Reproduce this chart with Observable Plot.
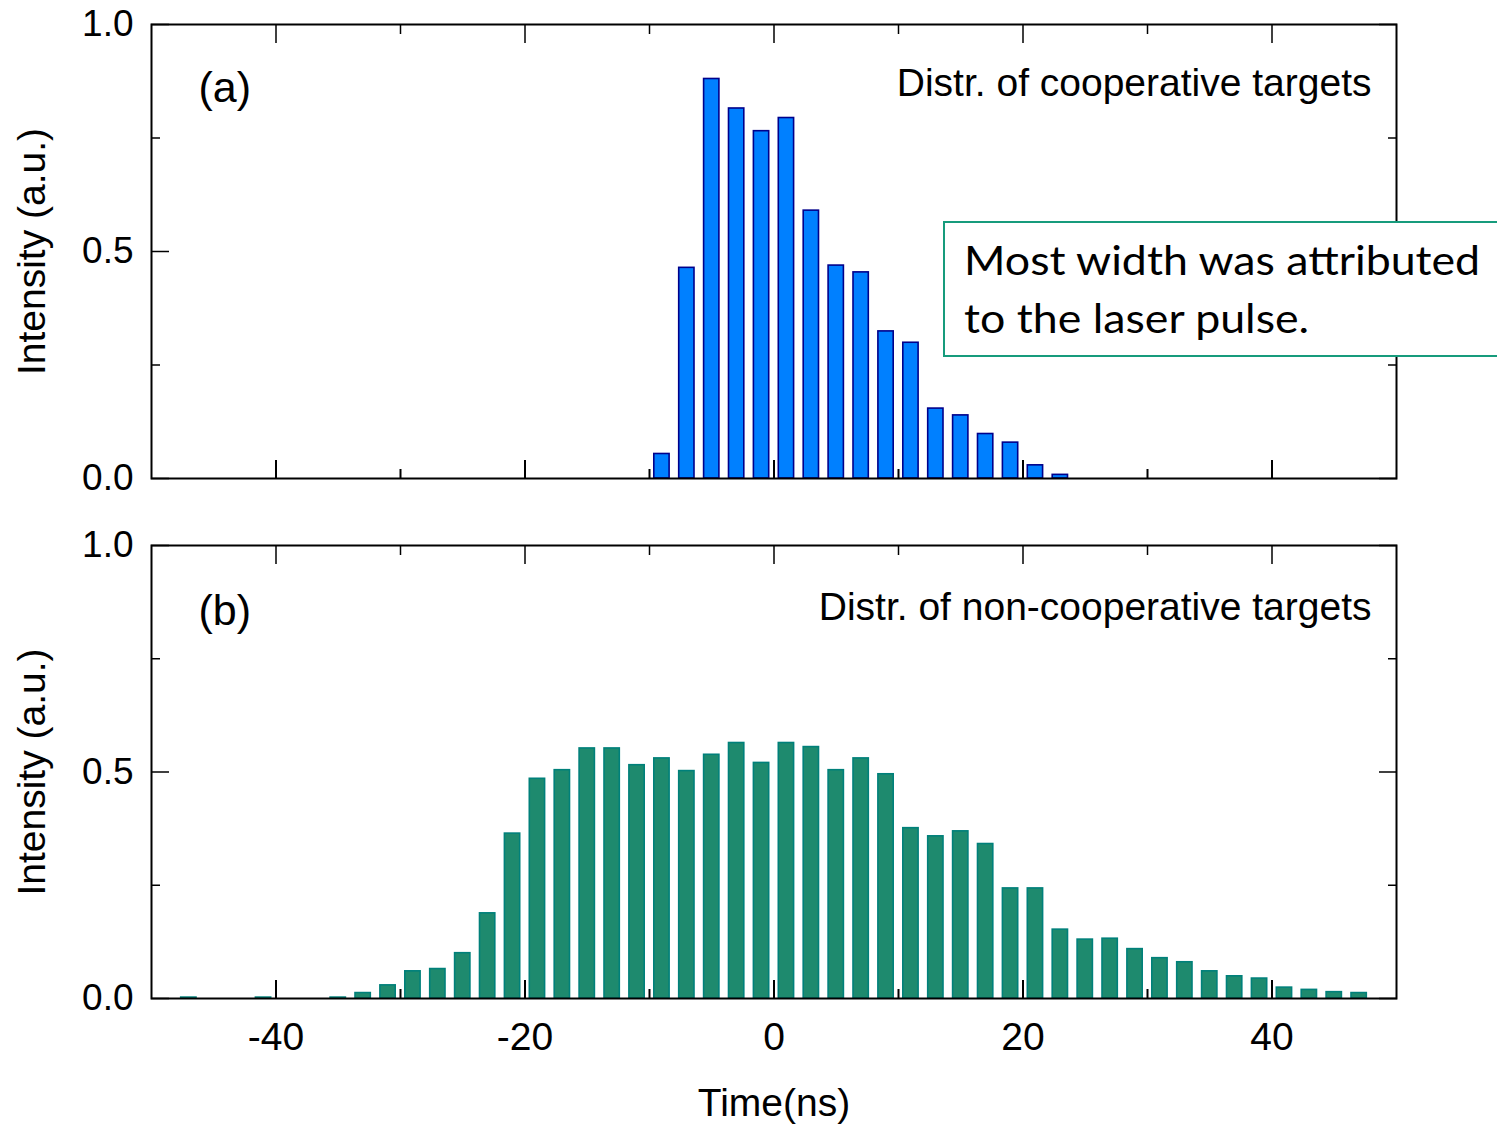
<!DOCTYPE html>
<html>
<head>
<meta charset="utf-8">
<script src="https://cdn.jsdelivr.net/npm/d3@7"></script>
<script src="https://cdn.jsdelivr.net/npm/@observablehq/plot@0.6"></script>
<style>
  html, body { margin: 0; padding: 0; background: #fff; }
  body { width: 1497px; height: 1125px; overflow: hidden; position: relative; }
  #top, #bottom { position: absolute; left: 0; }
  #top { top: 0; }
  #bottom { top: 500px; }
  #note {
    position: absolute; left: 943px; top: 221px; width: 620px; height: 136px;
    border: 2px solid #169b7c; background: #fff; box-sizing: border-box;
    font-family: Lato, "Open Sans", sans-serif; font-size: 41px; line-height: 58px;
    color: #000; padding: 8px 0 0 19px;
  }
  #note span { display: inline-block; transform: scaleX(1.09); transform-origin: left center; white-space: nowrap; }
</style>
</head>
<body>
<div id="top"></div>
<div id="bottom"></div>
<div id="note"><span>Most width was attributed</span><br><span>to the laser pulse.</span></div>
<script>
// ---- data ----
const coopTime = [-9, -7, -5, -3, -1, 1, 3, 5, 7, 9, 11, 13, 15, 17, 19, 21, 23];
const coopValue = [0.054, 0.464, 0.880, 0.815, 0.765, 0.794, 0.590, 0.469, 0.454,
                   0.324, 0.299, 0.154, 0.139, 0.098, 0.079, 0.029, 0.008];

const nonCoopTime = [-47, -45, -43, -41, -39, -37, -35, -33, -31, -29, -27, -25, -23, -21, -19, -17,
                     -15, -13, -11, -9, -7, -5, -3, -1, 1, 3, 5, 7, 9, 11, 13, 15,
                     17, 19, 21, 23, 25, 27, 29, 31, 33, 35, 37, 39, 41, 43, 45, 47];
const nonCoopValue = [0.002, 0, 0, 0.002, 0, 0, 0.002, 0.012, 0.029, 0.060, 0.065, 0.100, 0.188, 0.364, 0.485, 0.504,
                      0.552, 0.552, 0.515, 0.530, 0.502, 0.538, 0.564, 0.520, 0.564, 0.555, 0.504, 0.530, 0.495, 0.376, 0.358, 0.369,
                      0.341, 0.243, 0.243, 0.152, 0.130, 0.132, 0.109, 0.089, 0.080, 0.060, 0.049, 0.044, 0.024, 0.019, 0.014, 0.012];

const xMajorTicks = [-40, -20, 0, 20, 40];
const xMinorTicks = [-30, -10, 10, 30];
const yMajorTicks = [0, 0.5, 1];
const yMinorTicks = [0.25, 0.75];
const binWidth = 2;

const panels = [
  {id: "top", tag: "(a)", title: "Distr. of cooperative targets", time: coopTime, value: coopValue,
   fill: "#0080ff", stroke: "#00008b", height: 500, marginTop: 24, marginBottom: 22, xLabels: false,
   tagDy: 64, titleDy: 59},
  {id: "bottom", tag: "(b)", title: "Distr. of non-cooperative targets", time: nonCoopTime, value: nonCoopValue,
   fill: "#1e8a6e", stroke: "#00807a", height: 625, marginTop: 45, marginBottom: 127, xLabels: true,
   tagDy: 66, titleDy: 62}
];

const font = "'Liberation Sans', Arial, Helvetica, sans-serif";

for (const p of panels) {
  const rows = p.time.map((t, i) => ({t, v: p.value[i]})).filter(d => d.v > 0);
  const marks = [
    Plot.rectY(rows, {
      x1: d => d.t - binWidth / 2, x2: d => d.t + binWidth / 2, y1: 0, y2: "v",
      insetLeft: 4.8, insetRight: 4.8, fill: p.fill, stroke: p.stroke, strokeWidth: 1.6
    }),
    Plot.frame({stroke: "#000", strokeWidth: 2}),
    // inward ticks
    Plot.axisX(xMajorTicks, {anchor: "bottom", tickSize: -18, fill: "none", strokeWidth: 2, label: null}),
    Plot.axisX(xMinorTicks, {anchor: "bottom", tickSize: -9, fill: "none", strokeWidth: 2, label: null}),
    Plot.axisX(xMajorTicks, {anchor: "top", tickSize: -18, fill: "none", strokeWidth: 1.5, label: null}),
    Plot.axisX(xMinorTicks, {anchor: "top", tickSize: -9, fill: "none", strokeWidth: 1.5, label: null}),
    Plot.axisY(yMajorTicks, {anchor: "left", tickSize: -18, fill: "none", strokeWidth: 1.5, label: null}),
    Plot.axisY(yMinorTicks, {anchor: "left", tickSize: -9, fill: "none", strokeWidth: 1.5, label: null}),
    Plot.axisY(yMajorTicks, {anchor: "right", tickSize: -18, fill: "none", strokeWidth: 1.5, label: null}),
    Plot.axisY(yMinorTicks, {anchor: "right", tickSize: -9, fill: "none", strokeWidth: 1.5, label: null}),
    // tick labels
    Plot.axisY(yMajorTicks, {anchor: "left", tickSize: 0, tickPadding: 18, tickFormat: d3.format(".1f"),
      fontSize: 37, fill: "#000", label: null}),
    // y axis title
    Plot.text([p.tag], {frameAnchor: "left", text: () => "Intensity (a.u.)", rotate: -90, dx: -119,
      textAnchor: "middle", fontSize: 39, fill: "#000"}),
    // panel tag and title
    Plot.text([p.tag], {frameAnchor: "top-left", text: d => d, dx: 47, dy: p.tagDy, textAnchor: "start",
      lineAnchor: "middle", fontSize: 43, fill: "#000"}),
    Plot.text([p.title], {frameAnchor: "top-right", text: d => d, dx: -25, dy: p.titleDy, textAnchor: "end",
      lineAnchor: "middle", fontSize: 39, fill: "#000"})
  ];
  if (p.xLabels) {
    marks.push(Plot.axisX(xMajorTicks, {anchor: "bottom", tickSize: 0, tickPadding: 24, fontSize: 39,
      tickFormat: d => String(d), fill: "#000", label: null}));
    marks.push(Plot.text(["Time(ns)"], {frameAnchor: "bottom", text: d => d, dy: 105, lineAnchor: "middle",
      fontSize: 39, fill: "#000"}));
  }
  const chart = Plot.plot({
    width: 1497,
    height: p.height,
    marginLeft: 151,
    marginRight: 101,
    marginTop: p.marginTop,
    marginBottom: p.marginBottom,
    style: {fontFamily: font, background: "transparent", color: "#000", overflow: "visible"},
    x: {domain: [-50, 50]},
    y: {domain: [0, 1]},
    marks
  });
  document.getElementById(p.id).appendChild(chart);
}
</script>
</body>
</html>
